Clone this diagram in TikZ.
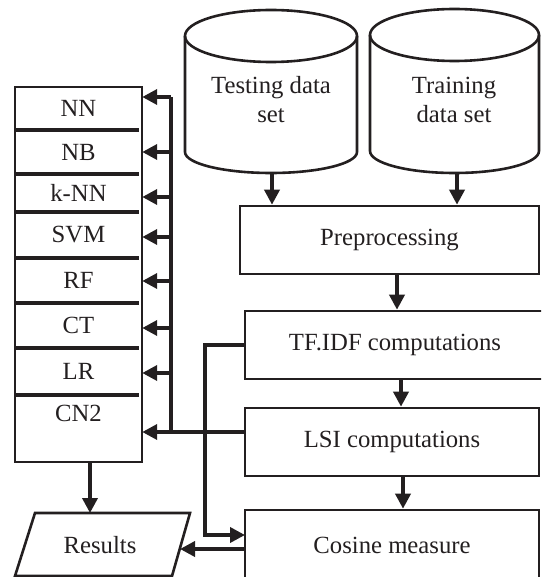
\documentclass[tikz,border=0pt]{standalone}
\usepackage{fontspec}
\setmainfont{Liberation Serif}
\usetikzlibrary{arrows.meta}
\definecolor{ink}{HTML}{231F20}
\tikzset{
  box/.style={draw=ink, line width=2.6pt, rectangle, inner sep=0pt, font=\fontsize{24.7}{29}\selectfont, text=ink},
  cell/.style={rectangle, inner sep=0pt, minimum width=127pt, font=\fontsize{24.7}{29}\selectfont, text=ink},
  outl/.style={draw=ink, line width=2.6pt},
  divl/.style={draw=ink, line width=3.6pt},
  arr/.style={draw=ink, line width=3.6pt, -{Triangle[length=15pt,width=15pt]}},
  ln/.style={draw=ink, line width=3.6pt},
  lbl/.style={font=\fontsize{24.7}{29}\selectfont, text=ink, align=center, inner sep=0pt}
}
\begin{document}
\begin{tikzpicture}[x=1pt,y=-1pt]
\useasboundingbox (0,0) rectangle (541,577);
\clip (0,0) rectangle (541,577);
% cylinders
\draw[outl] (271,36) ellipse [x radius=86, y radius=26];
\draw[outl] (185,36) -- (185,152) arc[start angle=180,end angle=0,x radius=86,y radius=21] -- (357,36);
\node[lbl] (test) at (271,100) {Testing data\\set};
\coordinate (testbot) at (272,173);
\draw[outl] (454.5,35) ellipse [x radius=84.5, y radius=26];
\draw[outl] (370,35) -- (370,151) arc[start angle=180,end angle=0,x radius=84.5,y radius=22] -- (539,35);
\node[lbl] (train) at (454,100) {Training\\data set};
\coordinate (trainbot) at (457,173);
% right column boxes
\node[box, minimum width=299pt, minimum height=68pt] (pre) at (389.5,240) {Preprocessing};
\node[box, minimum width=300pt, minimum height=68pt] (tfidf) at (395,345) {TF.IDF computations};
\node[box, minimum width=294pt, minimum height=68pt] (lsi) at (392,442) {LSI computations};
\node[box, minimum width=294pt, minimum height=76pt] (cos) at (392,548) {};
\node[lbl] (costxt) at (392,545) {Cosine measure};
% stack
\draw[outl] (15,87) rectangle (142,462);
\node[cell, minimum height=43pt] (nn) at (78.5,108.5) {NN};
\node[cell, minimum height=44pt] (nb) at (78.5,152) {NB};
\node[cell, minimum height=38pt] (knn) at (78.5,193) {k-NN};
\node[cell, minimum height=46pt] (svm) at (78.5,235) {SVM};
\node[cell, minimum height=45pt] (rf) at (78.5,280.5) {RF};
\node[cell, minimum height=45pt] (ct) at (78.5,325.5) {CT};
\node[cell, minimum height=47pt] (lr) at (78.5,371.5) {LR};
\node[cell, minimum height=67pt, anchor=north] (cn2) at (78.5,395) {};
\node[lbl] (cn2txt) at (78.5,413) {CN2};
\foreach \c in {nn,nb,knn,svm,rf,ct,lr}
  \draw[divl] (\c.south west) -- ([xshift=-3pt]\c.south east);
% results parallelogram
\draw[outl] (35,513) -- (190,513) -- (172,576) -- (15,576) -- cycle;
\node[lbl] (res) at (100,545) {Results};
\coordinate (resT) at (90,513);
\coordinate (resR) at (180,549);
% connectors right column
\draw[arr] (testbot) -- (testbot |- pre.north);
\draw[arr] (trainbot) -- (trainbot |- pre.north);
\draw[arr] ([xshift=7.5pt]pre.south) -- ([xshift=7.5pt]pre.south |- tfidf.north);
\draw[arr] ([xshift=6pt]tfidf.south) -- ([xshift=6pt]tfidf.south |- lsi.north);
\draw[arr] ([xshift=11pt]lsi.south) -- ([xshift=11pt]lsi.south |- cos.north);
% bus from LSI to classifiers
\coordinate (j) at (245,432);
\coordinate (bus) at (171,97);
\draw[arr] (j) -- (cn2.east |- j);
\draw[ln] (j -| bus) -- (bus);
\draw[arr] (bus) -- (nn.east |- bus);
\foreach \c/\y in {nb/152,knn/197,svm/237,rf/281,ct/328,lr/373}
  \draw[arr] (bus |- 0,\y) -- (nn.east |- 0,\y);
% TF.IDF to cosine
\coordinate (cosin) at (245,535);
\coordinate (cosout) at (245,549);
\draw[arr] (tfidf.west) -| (205,535) -- (cosin);
\draw[arr] (cosout) -- (resR);
\draw[arr] (resT |- cn2.south) -- (resT);
\end{tikzpicture}
\end{document}
